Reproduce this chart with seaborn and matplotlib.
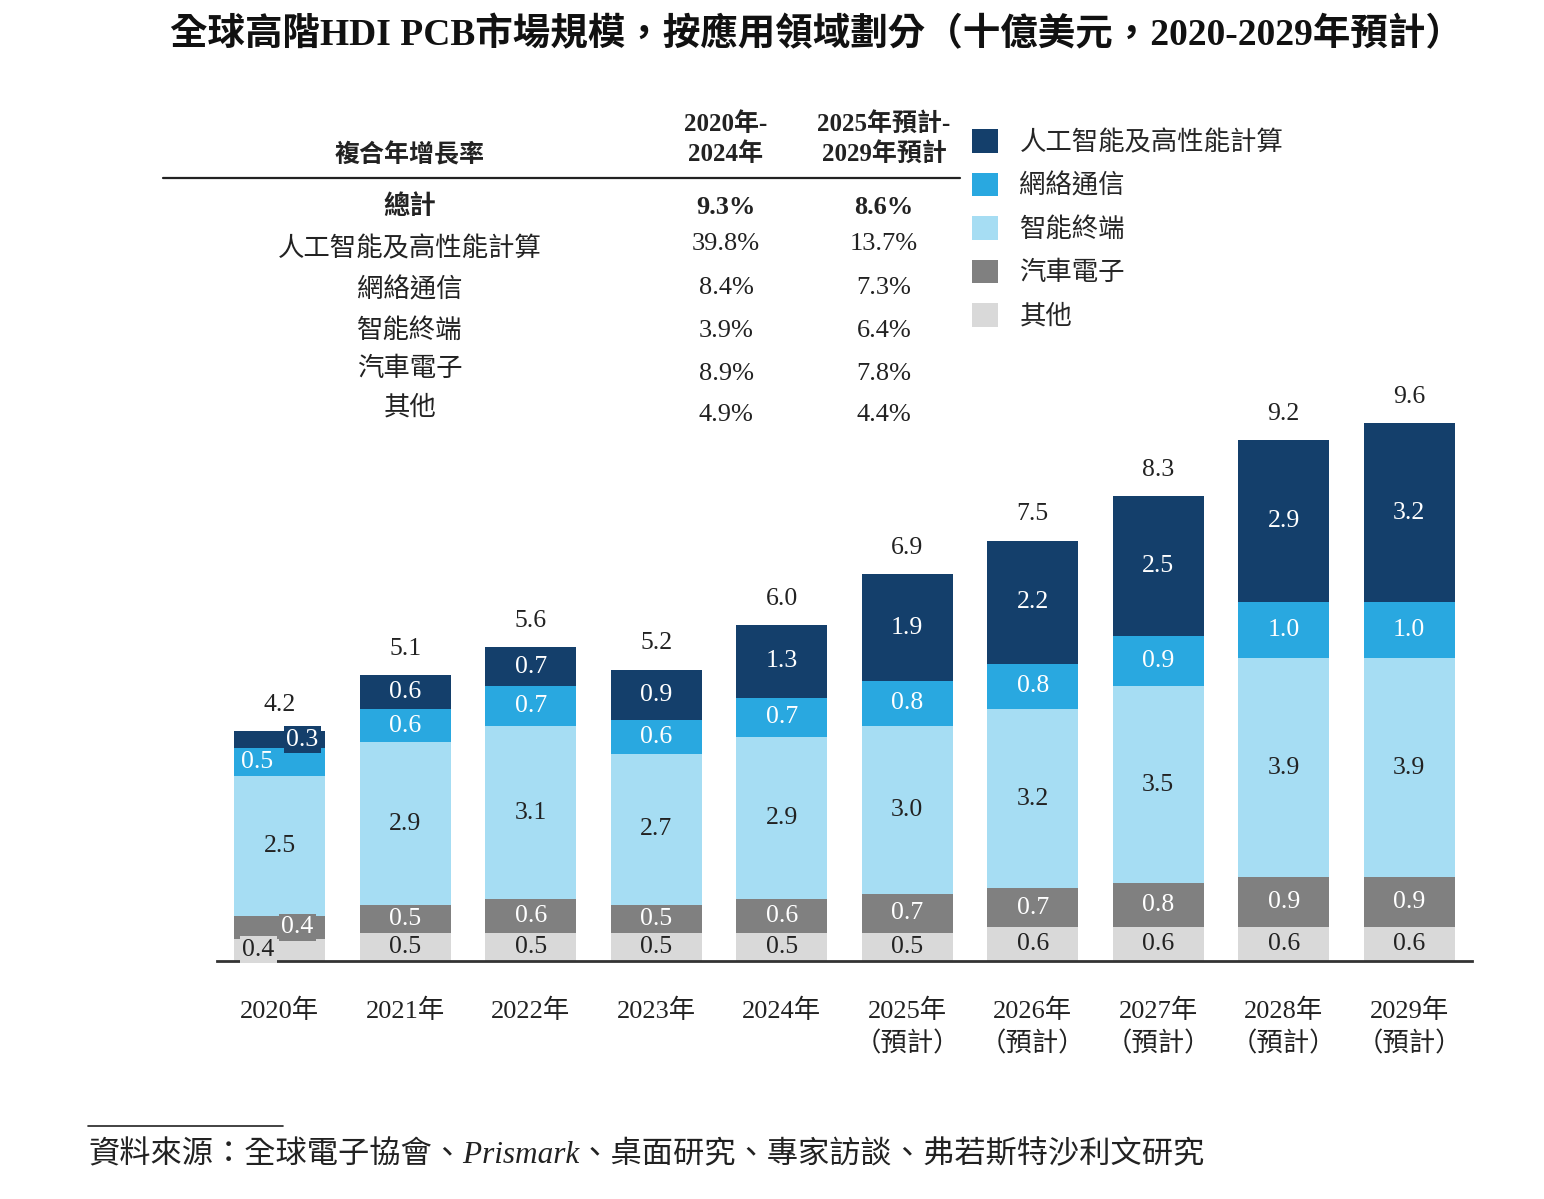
import matplotlib
matplotlib.use("Agg")
import matplotlib.pyplot as plt
import seaborn as sns
import numpy as np
import pandas as pd

# ---- data ----
years = ["2020年", "2021年", "2022年", "2023年", "2024年",
         "2025年\n（預計）", "2026年\n（預計）", "2027年\n（預計）",
         "2028年\n（預計）", "2029年\n（預計）"]
segments = ["其他", "汽車電子", "智能終端", "網絡通信", "人工智能及高性能計算"]  # bottom -> top
other = [0.4, 0.5, 0.5, 0.5, 0.5, 0.5, 0.6, 0.6, 0.6, 0.6]
auto = [0.4, 0.5, 0.6, 0.5, 0.6, 0.7, 0.7, 0.8, 0.9, 0.9]
smart = [2.5, 2.9, 3.1, 2.7, 2.9, 3.0, 3.2, 3.5, 3.9, 3.9]
network = [0.5, 0.6, 0.7, 0.6, 0.7, 0.8, 0.8, 0.9, 1.0, 1.0]
ai_hpc = [0.3, 0.6, 0.7, 0.9, 1.3, 1.9, 2.2, 2.5, 2.9, 3.2]
totals = [4.2, 5.1, 5.6, 5.2, 6.0, 6.9, 7.5, 8.3, 9.2, 9.6]

cagr_rows = ["總計", "人工智能及高性能計算", "網絡通信", "智能終端", "汽車電子", "其他"]
cagr_2020_2024 = ["9.3%", "39.8%", "8.4%", "3.9%", "8.9%", "4.9%"]
cagr_2025_2029 = ["8.6%", "13.7%", "7.3%", "6.4%", "7.8%", "4.4%"]

colors = ["#D9D9D9", "#808080", "#A6DDF3", "#29A8E0", "#143F6B"]
label_colors = ["#222222", "white", "#222222", "white", "white"]

# ---- style ----
sns.set_style("white")
plt.rcParams["font.family"] = ["Liberation Serif", "Noto Sans CJK TC"]

W, H = 1544, 1199
fig = plt.figure(figsize=(W / 100, H / 100), dpi=100)


def fx(px):
    return px / W


def fy(py):
    return 1 - py / H


ax = fig.add_axes([fx(217), fy(961), fx(1472) - fx(217), fy(380) - fy(961)])

vals = np.array([other, auto, smart, network, ai_hpc])
cum = vals.cumsum(axis=0)
df = pd.DataFrame({"year": years})
for i, seg in enumerate(segments):
    df[seg] = cum[i]

# stacked bars: draw cumulative heights from top segment down
for i in range(len(segments) - 1, -1, -1):
    sns.barplot(data=df, x="year", y=segments[i], color=colors[i], saturation=1,
                width=0.725, label=segments[i], ax=ax, linewidth=0)

ax.set_xlim(-0.5, 9.5)
ax.set_ylim(0, 10.37)
ax.set_ylabel("")
ax.set_xlabel("")
ax.set_yticks([])
for s in ["top", "left", "right"]:
    ax.spines[s].set_visible(False)
ax.spines["bottom"].set_color("#333333")
ax.spines["bottom"].set_linewidth(2)
ax.tick_params(axis="x", length=0, pad=27, labelsize=19, colors="#222222")
for t in ax.get_xticklabels():
    t.set_linespacing(1.4)

# segment labels
for j in range(len(years)):
    for i in range(len(segments)):
        mid = cum[i, j] - vals[i, j] / 2
        dx = 0
        box = None
        if j == 0:
            dx = [-0.17, 0.14, 0, -0.18, 0.18][i]
            if i != 2:
                box = dict(boxstyle="square,pad=0.1", fc=colors[i], ec="none")
        ax.text(j + dx, mid, f"{vals[i, j]:.1f}", ha="center", va="center",
                fontsize=18.5, color=label_colors[i], bbox=box)
    ax.text(j, cum[-1, j] + 0.47, f"{totals[j]:.1f}", ha="center", va="center",
            fontsize=18.5, color="#222222")

# legend
handles, labels = ax.get_legend_handles_labels()
ax.legend(handles, labels, loc="upper left", bbox_to_anchor=(fx(972), fy(129)),
          bbox_transform=fig.transFigure, frameon=False, fontsize=19,
          handlelength=1.0, handleheight=1.0, handletextpad=0.8,
          labelspacing=0.67, borderaxespad=0, borderpad=0)

# title
fig.text(fx(816), fy(35), "全球高階HDI PCB市場規模，按應用領域劃分（十億美元，2020-2029年預計）",
         ha="center", va="center", fontsize=27, fontweight="bold", color="#111111")

# CAGR table
fig.text(fx(410), fy(155), "複合年增長率", ha="center", va="center",
         fontsize=18, fontweight="bold", color="#222222")
fig.text(fx(726), fy(139), "2020年-\n2024年", ha="center", va="center",
         fontsize=18, fontweight="bold", color="#222222", linespacing=1.3)
fig.text(fx(884), fy(139), "2025年預計-\n2029年預計", ha="center", va="center",
         fontsize=18, fontweight="bold", color="#222222", linespacing=1.3)
fig.add_artist(plt.Line2D([fx(163), fx(960)], [fy(178), fy(178)],
                          color="#222222", linewidth=1.6))
row_y = [207, 249, 290, 330, 369, 407]
val_y = [207, 244, 288, 331, 374, 415]
for k, name in enumerate(cagr_rows):
    w = "bold" if k == 0 else "normal"
    fig.text(fx(410), fy(row_y[k]), name, ha="center", va="center",
             fontsize=19, fontweight=w, color="#222222")
    fig.text(fx(726), fy(val_y[k]), cagr_2020_2024[k], ha="center", va="center",
             fontsize=19, fontweight=w, color="#222222")
    fig.text(fx(884), fy(val_y[k]), cagr_2025_2029[k], ha="center", va="center",
             fontsize=19, fontweight=w, color="#222222")

# source note
fig.add_artist(plt.Line2D([fx(88), fx(283)], [fy(1126), fy(1126)],
                          color="#222222", linewidth=1.2))
fig.text(fx(88), fy(1155), "資料來源：全球電子協會、Prismark、桌面研究、專家訪談、弗若斯特沙利文研究",
         ha="left", va="center", fontsize=22.5, style="italic", color="#222222")

fig.savefig("out.png", dpi=100)
